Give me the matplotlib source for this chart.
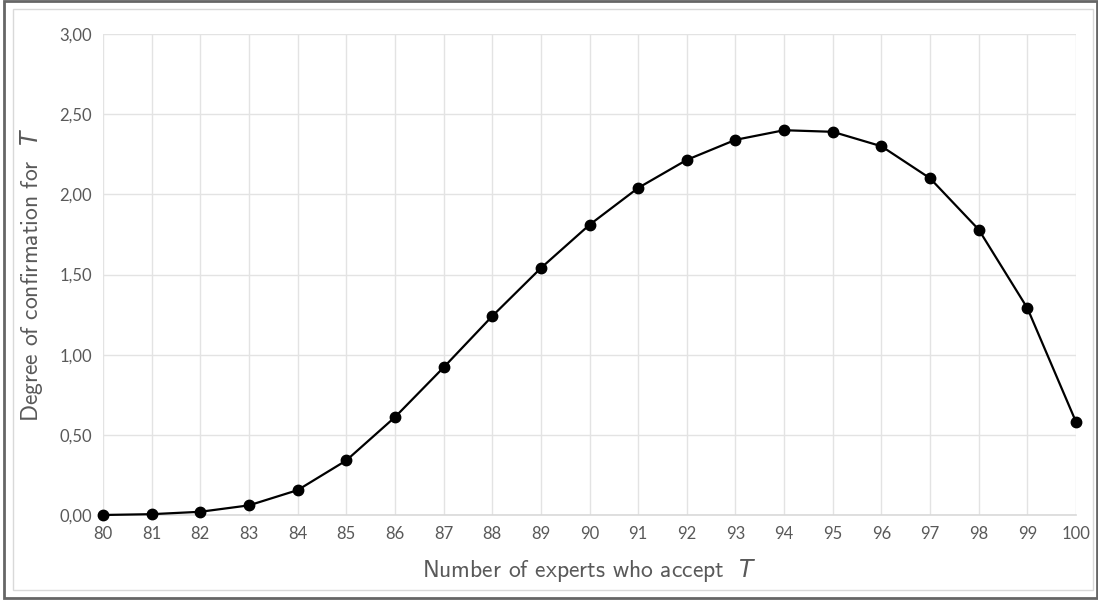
import matplotlib.pyplot as plt
from matplotlib.patches import Rectangle
from matplotlib.ticker import FuncFormatter

plt.rcParams['mathtext.fontset'] = 'custom'
plt.rcParams['mathtext.sf'] = 'cmss10'
plt.rcParams['mathtext.rm'] = 'cmss10'
plt.rcParams['mathtext.it'] = 'DejaVu Sans:italic'

experts = list(range(80, 101))
confirmation = [0.00, 0.005, 0.02, 0.06, 0.155, 0.34, 0.61, 0.92, 1.24, 1.54, 1.81,
                2.04, 2.215, 2.34, 2.40, 2.39, 2.30, 2.10, 1.78, 1.29, 0.58]
y_ticks = [0, 0.5, 1.0, 1.5, 2.0, 2.5, 3.0]

fig = plt.figure(figsize=(10.98, 6.00), dpi=100)

# frames around the chart
fig.patches.append(Rectangle((0.004, 0.003), 0.995, 0.995, transform=fig.transFigure,
                             fill=False, edgecolor='#666666', linewidth=2.0))
fig.patches.append(Rectangle((0.012, 0.017), 0.983, 0.968, transform=fig.transFigure,
                             fill=False, edgecolor='#d9d9d9', linewidth=1.0))

ax = fig.add_axes([0.0938, 0.1417, 0.8862, 0.8016])
ax.plot(experts, confirmation, color='black', linewidth=1.6, marker='o',
        markersize=7.5, zorder=3, clip_on=False)

ax.set_xlim(80, 100)
ax.set_ylim(0, 3.0)
ax.set_xticks(experts)
ax.set_yticks(y_ticks)
ax.yaxis.set_major_formatter(FuncFormatter(lambda v, p: f'{v:.2f}'.replace('.', ',')))

ax.grid(True, color='#e3e3e3', linewidth=1.0)
ax.set_axisbelow(True)
for s in ['top', 'right', 'left']:
    ax.spines[s].set_visible(False)
ax.spines['bottom'].set_color('#d9d9d9')
ax.spines['bottom'].set_linewidth(1.2)
ax.tick_params(length=0, labelsize=12, labelcolor='#595959', pad=8)
for lab in ax.get_xticklabels() + ax.get_yticklabels():
    lab.set_family('Lato')

ax.set_xlabel(r'$\mathsf{Number\ of\ experts\ who\ accept}\ \ \mathit{T}$', fontsize=17,
              color='#595959', labelpad=11)
ax.set_ylabel(r'$\mathsf{Degree\ of\ confirmation\ for}\ \ \mathit{T}$', fontsize=17,
              color='#595959', labelpad=10)

fig.savefig('out.png', dpi=100)
